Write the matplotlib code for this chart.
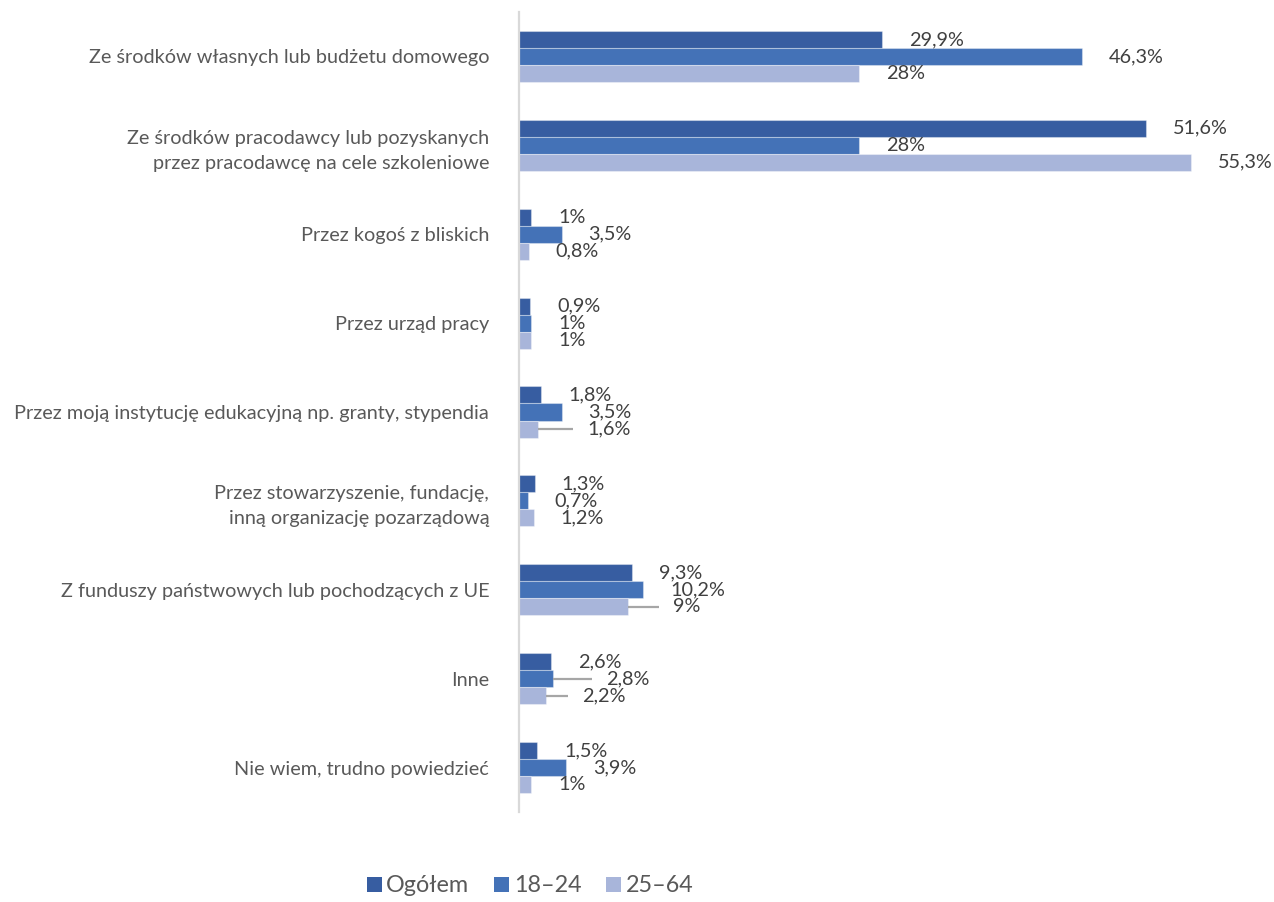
import matplotlib.pyplot as plt
from matplotlib.patches import Patch

categories = [
    "Ze środków własnych lub budżetu domowego",
    "Ze środków pracodawcy lub pozyskanych\nprzez pracodawcę na cele szkoleniowe",
    "Przez kogoś z bliskich",
    "Przez urząd pracy",
    "Przez moją instytucję edukacyjną np. granty, stypendia",
    "Przez stowarzyszenie, fundację,\ninną organizację pozarządową",
    "Z funduszy państwowych lub pochodzących z UE",
    "Inne",
    "Nie wiem, trudno powiedzieć",
]
series_names = ["Ogółem", "18–24", "25–64"]
ogolem = [29.9, 51.6, 1.0, 0.9, 1.8, 1.3, 9.3, 2.6, 1.5]
wiek_18_24 = [46.3, 28.0, 3.5, 1.0, 3.5, 0.7, 10.2, 2.8, 3.9]
wiek_25_64 = [28.0, 55.3, 0.8, 1.0, 1.6, 1.2, 9.0, 2.2, 1.0]

colors = ["#375da1", "#4472b7", "#a8b5da"]
# labels pushed further right (px), drawn with a leader line
moved_labels = {(4, 2): 22, (6, 2): 18, (7, 1): 26, (7, 2): 9}

plt.rcParams['font.family'] = ['Lato', 'DejaVu Sans']

fig = plt.figure(figsize=(12.74, 9.02), dpi=100)
ax = fig.add_axes([519 / 1274, 1 - 812 / 902, 729 / 1274, 800 / 902])
xmax = 60
ax.set_xlim(0, xmax)
ax.set_ylim(8.5, -0.5)
ppu = ax.bbox.width / xmax  # pixels per percent

h = 0.1915
series = [ogolem, wiek_18_24, wiek_25_64]
for s, vals in enumerate(series):
    ys = [i + (s - 1) * h for i in range(len(categories))]
    ax.barh(ys, vals, height=h, color=colors[s], edgecolor=(1, 1, 1, 0.35),
            linewidth=0.8, label=series_names[s])
    for i, v in enumerate(vals):
        txt = f"{v:g}".replace(".", ",") + "%"
        extra = moved_labels.get((i, s), 0)
        lx = v + (27 + extra) / ppu
        if extra:
            ax.plot([v, lx - 14 / ppu], [ys[i], ys[i]], color="#a6a6a6", lw=1.6,
                    solid_capstyle="butt", zorder=1)
        ax.text(lx, ys[i], txt, ha="left", va="center", fontsize=14.3,
                color="#404040")

ax.set_yticks(range(len(categories)))
ax.set_yticklabels(categories, fontsize=14.3, color="#595959", linespacing=1.55)
ax.tick_params(axis="y", length=0, pad=21.5)
ax.set_xticks([])
for side in ["top", "right", "bottom"]:
    ax.spines[side].set_visible(False)
ax.spines["left"].set_color("#d9d9d9")
ax.spines["left"].set_linewidth(1.6)

handles = [Patch(facecolor=c) for c in colors]
fig.legend(handles, series_names, loc="center", bbox_to_anchor=(530 / 1274, 1 - 886 / 902),
           ncol=3, frameon=False, fontsize=16.8, handlelength=0.65, handleheight=0.65,
           handletextpad=0.2, columnspacing=1.05, labelcolor="#595959")

fig.savefig("out.png", dpi=100)
